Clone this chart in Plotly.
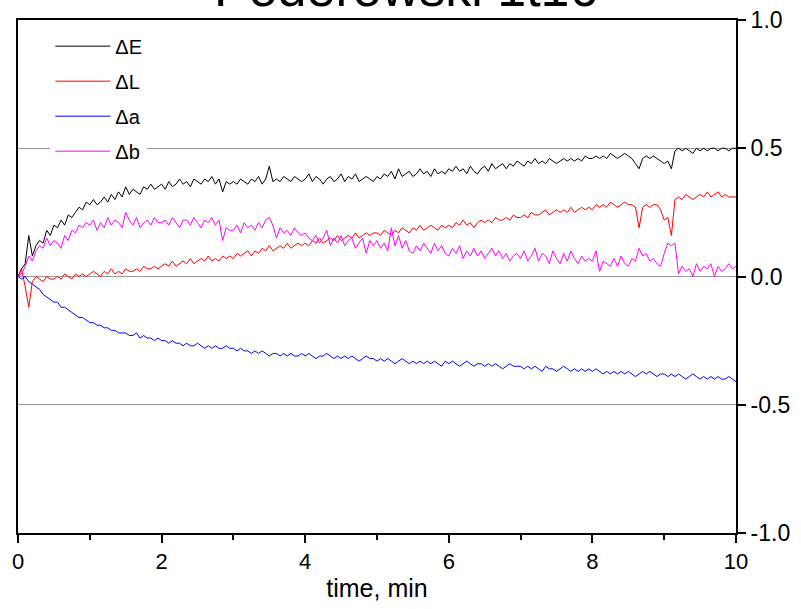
import plotly.graph_objects as go

# time axis, minutes (0.05 min step)
time = [round(i * 0.05, 2) for i in range(201)]

dE = [
    0.00, 0.03, 0.05, 0.16, 0.08, 0.12, 0.14, 0.13, 0.18, 0.16, 0.20, 0.19, 0.22, 0.20, 0.24, 0.23, 0.25, 0.27, 0.26, 0.29,
    0.28, 0.30, 0.28, 0.29, 0.31, 0.29, 0.32, 0.30, 0.33, 0.31, 0.35, 0.32, 0.34, 0.33, 0.32, 0.35, 0.34, 0.36, 0.34, 0.35,
    0.36, 0.34, 0.37, 0.35, 0.36, 0.38, 0.36, 0.37, 0.35, 0.38, 0.37, 0.36, 0.38, 0.37, 0.39, 0.36, 0.38, 0.33, 0.37, 0.36,
    0.37, 0.36, 0.38, 0.37, 0.36, 0.38, 0.37, 0.39, 0.36, 0.38, 0.43, 0.37, 0.38, 0.37, 0.39, 0.38, 0.37, 0.39, 0.38, 0.37,
    0.38, 0.40, 0.37, 0.39, 0.38, 0.36, 0.38, 0.39, 0.37, 0.38, 0.40, 0.37, 0.39, 0.38, 0.40, 0.37, 0.38, 0.39, 0.38, 0.37,
    0.39, 0.38, 0.40, 0.39, 0.41, 0.38, 0.42, 0.39, 0.40, 0.41, 0.39, 0.40, 0.42, 0.40, 0.41, 0.39, 0.42, 0.40, 0.41, 0.40,
    0.42, 0.41, 0.43, 0.41, 0.42, 0.40, 0.43, 0.41, 0.40, 0.42, 0.43, 0.41, 0.44, 0.42, 0.43, 0.44, 0.42, 0.44, 0.43, 0.45,
    0.44, 0.43, 0.45, 0.44, 0.46, 0.44, 0.45, 0.44, 0.46, 0.45, 0.44, 0.45, 0.46, 0.45, 0.46, 0.45, 0.46, 0.45, 0.47, 0.46,
    0.46, 0.47, 0.46, 0.47, 0.46, 0.48, 0.47, 0.46, 0.47, 0.48, 0.47, 0.46, 0.44, 0.42, 0.46, 0.47, 0.46, 0.47, 0.46, 0.45,
    0.44, 0.45, 0.42, 0.49, 0.50, 0.49, 0.50, 0.49, 0.48, 0.50, 0.49, 0.50, 0.49, 0.50, 0.50, 0.49, 0.50, 0.50, 0.49, 0.50,
    0.50,
]

dL = [
    0.00, 0.03, -0.04, -0.12, -0.02, 0.00, -0.01, -0.02, 0.00, -0.01, -0.01, 0.00, -0.01, 0.01, 0.00, -0.01, 0.01, 0.00, 0.01, 0.00,
    0.01, 0.02, 0.01, 0.00, 0.02, 0.01, 0.03, 0.01, 0.02, 0.01, 0.03, 0.02, 0.02, 0.03, 0.02, 0.04, 0.03, 0.03, 0.04, 0.03,
    0.04, 0.05, 0.04, 0.06, 0.04, 0.05, 0.06, 0.05, 0.07, 0.05, 0.06, 0.07, 0.06, 0.08, 0.06, 0.07, 0.06, 0.08, 0.07, 0.08,
    0.07, 0.09, 0.08, 0.09, 0.10, 0.08, 0.10, 0.09, 0.11, 0.10, 0.12, 0.10, 0.11, 0.12, 0.11, 0.13, 0.11, 0.12, 0.13, 0.12,
    0.13, 0.12, 0.14, 0.13, 0.15, 0.13, 0.14, 0.15, 0.14, 0.16, 0.14, 0.15, 0.16, 0.15, 0.17, 0.15, 0.16, 0.17, 0.16, 0.17,
    0.17, 0.16, 0.18, 0.17, 0.16, 0.18, 0.17, 0.19, 0.18, 0.17, 0.19, 0.18, 0.20, 0.18, 0.19, 0.20, 0.19, 0.18, 0.20, 0.19,
    0.20, 0.19, 0.21, 0.20, 0.22, 0.20, 0.21, 0.19, 0.21, 0.22, 0.21, 0.22, 0.21, 0.23, 0.22, 0.22, 0.23, 0.22, 0.24, 0.23,
    0.23, 0.24, 0.23, 0.25, 0.24, 0.24, 0.25, 0.26, 0.24, 0.25, 0.26, 0.25, 0.26, 0.25, 0.27, 0.25, 0.26, 0.27, 0.26, 0.27,
    0.26, 0.28, 0.27, 0.28, 0.27, 0.29, 0.28, 0.27, 0.28, 0.29, 0.28, 0.28, 0.27, 0.19, 0.27, 0.28, 0.27, 0.28, 0.28, 0.26,
    0.22, 0.23, 0.16, 0.30, 0.31, 0.30, 0.32, 0.31, 0.30, 0.31, 0.32, 0.31, 0.33, 0.31, 0.32, 0.33, 0.31, 0.32, 0.31, 0.31,
    0.31,
]

da = [
    0.00, -0.01, 0.00, -0.02, -0.03, -0.04, -0.05, -0.07, -0.08, -0.09, -0.10, -0.10, -0.12, -0.12, -0.13, -0.14, -0.15, -0.16, -0.16, -0.17,
    -0.18, -0.18, -0.19, -0.19, -0.20, -0.20, -0.21, -0.21, -0.22, -0.22, -0.22, -0.23, -0.23, -0.22, -0.24, -0.23, -0.24, -0.24, -0.25, -0.24,
    -0.25, -0.25, -0.26, -0.25, -0.26, -0.26, -0.27, -0.26, -0.27, -0.27, -0.26, -0.27, -0.28, -0.27, -0.28, -0.27, -0.28, -0.28, -0.27, -0.28,
    -0.28, -0.29, -0.28, -0.29, -0.29, -0.30, -0.29, -0.30, -0.29, -0.30, -0.31, -0.30, -0.30, -0.31, -0.30, -0.31, -0.30, -0.31, -0.31, -0.30,
    -0.31, -0.30, -0.31, -0.32, -0.31, -0.31, -0.30, -0.31, -0.32, -0.31, -0.32, -0.31, -0.32, -0.31, -0.32, -0.33, -0.32, -0.31, -0.32, -0.32,
    -0.33, -0.32, -0.33, -0.32, -0.33, -0.34, -0.33, -0.32, -0.33, -0.34, -0.33, -0.34, -0.33, -0.34, -0.33, -0.34, -0.33, -0.34, -0.35, -0.33,
    -0.34, -0.33, -0.34, -0.35, -0.34, -0.33, -0.34, -0.35, -0.34, -0.34, -0.35, -0.34, -0.35, -0.34, -0.35, -0.36, -0.35, -0.34, -0.35, -0.35,
    -0.35, -0.36, -0.35, -0.36, -0.35, -0.36, -0.37, -0.35, -0.36, -0.36, -0.37, -0.36, -0.35, -0.36, -0.37, -0.36, -0.37, -0.36, -0.37, -0.36,
    -0.37, -0.36, -0.37, -0.38, -0.37, -0.38, -0.37, -0.38, -0.37, -0.38, -0.37, -0.38, -0.39, -0.38, -0.37, -0.38, -0.37, -0.38, -0.39, -0.38,
    -0.38, -0.39, -0.38, -0.39, -0.38, -0.39, -0.40, -0.39, -0.38, -0.39, -0.40, -0.39, -0.40, -0.39, -0.40, -0.39, -0.40, -0.40, -0.39, -0.40,
    -0.41,
]

db = [
    0.00, 0.01, 0.04, 0.08, 0.06, 0.10, 0.12, 0.11, 0.15, 0.12, 0.14, 0.13, 0.11, 0.16, 0.14, 0.18, 0.17, 0.20, 0.19, 0.21,
    0.20, 0.22, 0.18, 0.21, 0.19, 0.23, 0.20, 0.22, 0.21, 0.19, 0.25, 0.22, 0.20, 0.23, 0.19, 0.21, 0.22, 0.20, 0.23, 0.21,
    0.21, 0.22, 0.20, 0.23, 0.21, 0.19, 0.22, 0.22, 0.20, 0.23, 0.21, 0.19, 0.22, 0.21, 0.23, 0.20, 0.22, 0.14, 0.19, 0.18,
    0.18, 0.20, 0.17, 0.21, 0.19, 0.20, 0.18, 0.21, 0.19, 0.22, 0.23, 0.20, 0.15, 0.19, 0.17, 0.18, 0.16, 0.19, 0.17, 0.16,
    0.17, 0.15, 0.14, 0.16, 0.13, 0.15, 0.18, 0.12, 0.15, 0.13, 0.16, 0.12, 0.14, 0.15, 0.11, 0.13, 0.15, 0.09, 0.14, 0.12,
    0.14, 0.11, 0.13, 0.10, 0.19, 0.12, 0.16, 0.11, 0.14, 0.10, 0.09, 0.12, 0.10, 0.13, 0.11, 0.09, 0.13, 0.10, 0.12, 0.09,
    0.08, 0.11, 0.09, 0.12, 0.07, 0.10, 0.08, 0.11, 0.08, 0.10, 0.07, 0.09, 0.11, 0.08, 0.10, 0.07, 0.09, 0.06, 0.08, 0.09,
    0.07, 0.10, 0.06, 0.08, 0.11, 0.06, 0.09, 0.08, 0.05, 0.10, 0.07, 0.05, 0.09, 0.06, 0.10, 0.07, 0.05, 0.08, 0.06, 0.07,
    0.06, 0.10, 0.02, 0.06, 0.05, 0.04, 0.07, 0.04, 0.08, 0.05, 0.04, 0.07, 0.06, 0.11, 0.08, 0.09, 0.06, 0.07, 0.05, 0.04,
    0.09, 0.13, 0.12, 0.13, 0.01, 0.04, 0.02, 0.03, 0.00, 0.05, 0.02, 0.04, 0.03, 0.05, 0.00, 0.04, 0.02, 0.03, 0.05, 0.03,
    0.04,
]

series_names = ["ΔE", "ΔL", "Δa", "Δb"]
series_values = [dE, dL, da, db]
series_colors = ["#000000", "#ff0000", "#0000ff", "#ff00ff"]

y_tickvals = [-1.0, -0.5, 0.0, 0.5, 1.0]
y_ticktext = ["-1.0", "-0.5", "0.0", "0.5", "1.0"]
x_tickvals = [0, 2, 4, 6, 8, 10]
x_ticktext = ["0", "2", "4", "6", "8", "10"]
title_text = "Poderowski 1t16"

FONT = "Arial, 'Liberation Sans', sans-serif"

fig = go.Figure()
for name, vals, col in zip(series_names, series_values, series_colors):
    fig.add_trace(go.Scatter(
        x=time, y=vals, mode="lines", name=name, legendgroup=name,
        line=dict(color=col, width=1),
    ))

fig.update_layout(
    width=801, height=609,
    margin=dict(l=18, r=65, t=20, b=76, autoexpand=False),
    paper_bgcolor="white", plot_bgcolor="white",
    font=dict(family=FONT, color="black", size=20),
    showlegend=True,
    legend=dict(
        x=0.045, y=0.987, xanchor="left", yanchor="top",
        bgcolor="white", borderwidth=0,
        font=dict(size=20, family=FONT),
        itemwidth=55, tracegroupgap=6,
    ),
    xaxis=dict(
        range=[0, 10], showgrid=False, zeroline=False, automargin=False,
        showline=True, linecolor="black", linewidth=2, mirror=True,
        ticks="outside", ticklen=8, tickwidth=2, tickcolor="black",
        tickvals=x_tickvals, ticktext=x_ticktext,
        tickfont=dict(size=22, family=FONT),
        minor=dict(ticks="outside", ticklen=5, tickwidth=2, tickcolor="black", dtick=1, showgrid=False),
        title=dict(text="time, min", font=dict(size=25, family=FONT), standoff=6),
    ),
    yaxis=dict(
        range=[-1, 1], side="right", automargin=False,
        showgrid=True, gridcolor="#999999", gridwidth=1, zeroline=False,
        showline=True, linecolor="black", linewidth=2, mirror=True,
        ticks="outside", ticklen=8, tickwidth=2, tickcolor="black",
        tickvals=y_tickvals, ticktext=y_ticktext,
        tickfont=dict(size=23, family=FONT),
    ),
    annotations=[dict(
        text=title_text, xref="paper", yref="paper", x=0.54, y=1.063,
        xanchor="center", yanchor="middle", showarrow=False,
        font=dict(size=52, family=FONT, color="black"),
    )],
)

fig.write_html("out.html", config={"displayModeBar": False})
